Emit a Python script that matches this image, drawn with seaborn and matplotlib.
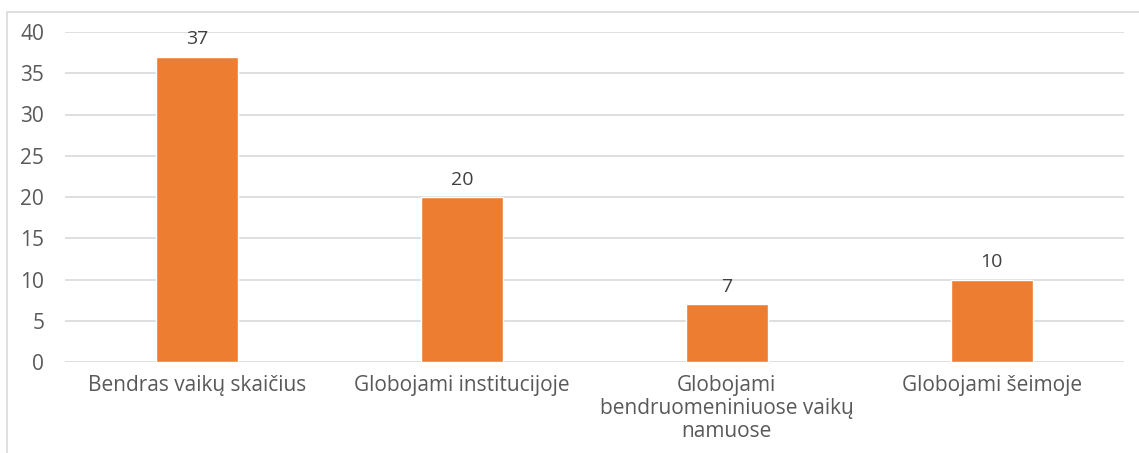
import matplotlib
matplotlib.use("Agg")
import matplotlib.pyplot as plt
import seaborn as sns
import pandas as pd
from matplotlib.patches import Rectangle

categories = ["Bendras vaikų skaičius", "Globojami institucijoje",
              "Globojami\nbendruomeniniuose vaikų\nnamuose", "Globojami šeimoje"]
values = [37, 20, 7, 10]
yticks = [0, 5, 10, 15, 20, 25, 30, 35, 40]

sns.set_theme(style="white")
plt.rcParams['font.family'] = ['Open Sans', 'DejaVu Sans']

df = pd.DataFrame({"cat": categories, "val": values})
fig = plt.figure(figsize=(11.39, 4.53), dpi=100)
ax = fig.add_axes([65/1139, 1-362/453, (1124-65)/1139, (362-32)/453])

sns.barplot(data=df, x="cat", y="val", color="#ED7D31", width=0.31, ax=ax, saturation=1)
ax.set_ylim(0, 40)
ax.set_yticks(yticks)
ax.set_xlim(-0.5, len(categories)-0.5)
ax.yaxis.grid(True, color="#D9D9D9", linewidth=1.2)
ax.set_axisbelow(True)
for s in ax.spines.values():
    s.set_visible(False)
ax.set_xlabel("")
ax.set_ylabel("")
ax.tick_params(axis='y', colors="#595959", labelsize=15, length=0, pad=15)
ax.tick_params(axis='x', colors="#595959", labelsize=15, length=0, pad=9)
for lbl in ax.get_xticklabels():
    lbl.set_linespacing(1.15)
for c in ax.containers:
    ax.bar_label(c, labels=[str(v) for v in values], padding=6, color="#404040", fontsize=14)

fig.patches.append(Rectangle((7/1139, -0.1), 1.2, 1-12/453+0.1, transform=fig.transFigure,
                             fill=False, edgecolor="#D9D9D9", linewidth=1.2))
fig.savefig("out.png", dpi=100, facecolor="white")
